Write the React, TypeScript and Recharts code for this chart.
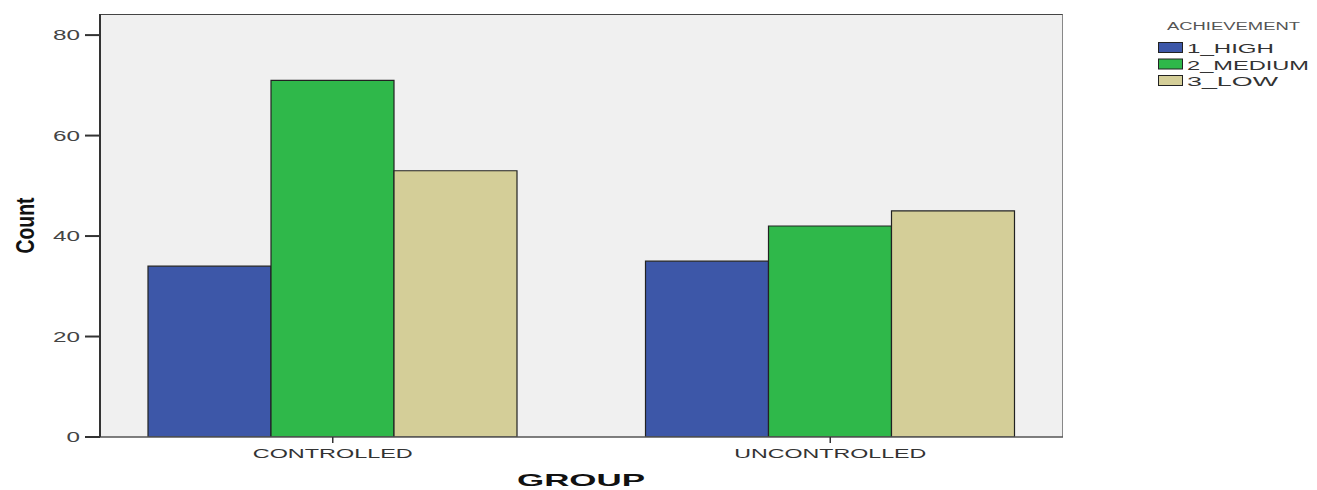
import React from 'react';
import { Bar, BarChart, Legend, XAxis, YAxis } from 'recharts';

const categories = ['CONTROLLED', 'UNCONTROLLED'];
const highCounts = [34, 35];
const mediumCounts = [71, 42];
const lowCounts = [53, 45];
const seriesNames = ['1_HIGH', '2_MEDIUM', '3_LOW'];
const yTicks = [0, 20, 40, 60, 80];

const data = categories.map((group, i) => ({
  group,
  high: highCounts[i],
  medium: mediumCounts[i],
  low: lowCounts[i],
}));

const series = [
  { key: 'high', name: seriesNames[0], color: '#3d57a8' },
  { key: 'medium', name: seriesNames[1], color: '#2fb84a' },
  { key: 'low', name: seriesNames[2], color: '#d4ce98' },
];

const font = '"Liberation Sans", Arial, sans-serif';

const YTick = ({ x, y, payload }: any) => {
  const label = String(payload.value);
  return (
    <text x={x} y={y} dy={5} textAnchor="end" fontFamily={font} fontSize={14} fill="#444"
      textLength={label.length * 13.5} lengthAdjust="spacingAndGlyphs">
      {label}
    </text>
  );
};

const XTick = ({ x, y, payload }: any) => {
  const label = String(payload.value);
  return (
    <g>
      <line x1={x} x2={x} y1={y - 8} y2={y - 2} stroke="#333" strokeWidth={1.5} />
      <text x={x} y={y + 13} textAnchor="middle" fontFamily={font} fontSize={13} fill="#333"
        textLength={label.length * 16} lengthAdjust="spacingAndGlyphs">
        {label}
      </text>
    </g>
  );
};

const renderLegend = () => (
  <svg width={170} height={80} style={{ display: 'block' }}>
    <text x={17} y={16} fontFamily={font} fontSize={10} fill="#555"
      textLength={133} lengthAdjust="spacingAndGlyphs">ACHIEVEMENT</text>
    {series.map((s, i) => (
      <g key={s.key}>
        <rect x={8.5} y={28.5 + i * 16.5} width={24} height={10} fill={s.color} stroke="#222" strokeWidth={1} />
        <text x={37} y={39 + i * 16.5} fontFamily={font} fontSize={13} fill="#333"
          textLength={[87, 122, 91][i]} lengthAdjust="spacingAndGlyphs">{s.name}</text>
      </g>
    ))}
  </svg>
);

export default function App() {
  return (
    <div style={{ position: 'absolute', left: 0, top: 0, width: 1317, height: 490, background: '#fff' }}>
      <div
        style={{
          position: 'absolute',
          left: 100,
          top: 14,
          width: 963,
          height: 423,
          boxSizing: 'border-box',
          background: '#f0f0f0',
          borderTop: '1.5px solid #444',
          borderRight: '1.5px solid #888',
        }}
      />
      <div style={{ position: 'absolute', left: 0, top: 0 }}>
        <BarChart
          width={1317}
          height={490}
          data={data}
          margin={{ top: 14, right: 84, bottom: 23, left: 40 }}
          barGap={0}
          barSize={123}
        >
          <XAxis
            dataKey="group"
            height={30}
            padding={{ left: -16, right: -16 }}
            axisLine={{ stroke: '#555', strokeWidth: 1.5 }}
            tickLine={false}
            tick={<XTick />}
            label={{
              content: ({ viewBox }: any) => (
                <text x={581} y={viewBox.y + 49} textAnchor="middle" fontFamily={font} fontSize={17}
                  fontWeight="bold" fill="#111" textLength={128} lengthAdjust="spacingAndGlyphs">
                  GROUP
                </text>
              ),
            }}
          />
          <YAxis
            width={60}
            domain={[0, 84.2]}
            ticks={yTicks}
            tickSize={15}
            tickMargin={5}
            allowDataOverflow
            axisLine={{ stroke: '#333', strokeWidth: 2 }}
            tickLine={{ stroke: '#333', strokeWidth: 2 }}
            tick={<YTick />}
            label={{
              content: ({ viewBox }: any) => (
                <text
                  x={25}
                  y={viewBox.y + viewBox.height / 2}
                  transform={`rotate(-90, 25, ${viewBox.y + viewBox.height / 2})`}
                  textAnchor="middle"
                  dominantBaseline="central"
                  fontFamily='"Liberation Sans Narrow", "Liberation Sans", sans-serif'
                  fontSize={25}
                  fontWeight="bold"
                  fill="#111"
                  textLength={56}
                  lengthAdjust="spacingAndGlyphs"
                >
                  Count
                </text>
              ),
            }}
          />
          <Legend
            layout="vertical"
            align="right"
            verticalAlign="top"
            content={renderLegend}
            wrapperStyle={{ position: 'absolute', left: 1150, top: 14, width: 170 }}
          />
          {series.map((s) => (
            <Bar
              key={s.key}
              dataKey={s.key}
              name={s.name}
              fill={s.color}
              stroke="#222"
              strokeWidth={1.2}
              isAnimationActive={false}
            />
          ))}
        </BarChart>
      </div>
    </div>
  );
}
